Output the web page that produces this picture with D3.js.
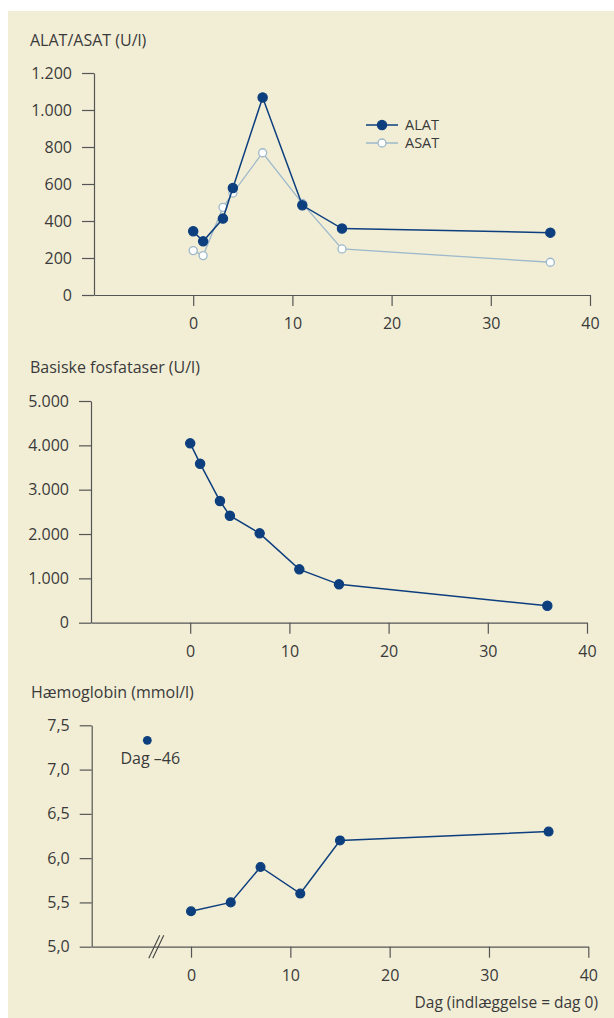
<!DOCTYPE html>
<html>
<head>
<meta charset="utf-8">
<title>ALAT/ASAT, basiske fosfataser, hæmoglobin</title>
<script src="https://cdn.jsdelivr.net/npm/d3@7"></script>
<style>
  body { margin: 0; background: #fff; }
  svg text { font-family: "Open Sans", sans-serif; fill: #3a3a3a; }
  .axis path, .axis line { stroke: #555; stroke-width: 1.2; }
  .axis text { font-size: 16px; }
  .title { font-size: 16px; }
</style>
</head>
<body>
<script>
// data
var days = [0, 1, 3, 4, 7, 11, 15, 36];
var alat = [345, 290, 413, 578, 1068, 485, 359, 337];
var asat = [240, 213, 474, 551, 769, 495, 249, 177];
var fosfatase = [4045, 3586, 2744, 2414, 2015, 1203, 865, 383];
var hbDays = [0, 4, 7, 11, 15, 36];
var hb = [5.4, 5.5, 5.9, 5.6, 6.2, 6.3];
var hbEarly = {day: -46, value: 7.33, label: "Dag \u201346"};
var xTicks = [0, 10, 20, 30, 40];
var alatTicks = [0, 200, 400, 600, 800, 1000, 1200];
var fosTicks = [0, 1000, 2000, 3000, 4000, 5000];
var hbTicks = [5.0, 5.5, 6.0, 6.5, 7.0, 7.5];

var dark = "#0d3f7e";
var light = "#9db8cb";

var locale = d3.formatLocale({decimal: ",", thousands: ".", grouping: [3], currency: ["", ""]});
var fmtInt = locale.format(",");
var fmtDec = locale.format(".1f");

var W = 614, H = 1018;
var svg = d3.select("body").append("svg")
	.attr("width", W)
	.attr("height", H);

svg.append("rect")
	.attr("x", 8).attr("y", 11)
	.attr("width", W - 8).attr("height", H - 11)
	.attr("fill", "#f2eed6");

function panel(opts) {
	var x = d3.scaleLinear().domain([-10, 40]).range(opts.xr);
	var y = d3.scaleLinear().domain(opts.yd).range(opts.yr);

	svg.append("text")
		.attr("class", "title")
		.attr("x", opts.tx).attr("y", opts.ty)
		.text(opts.title);

	svg.append("g")
		.attr("class", "axis")
		.attr("transform", "translate(0," + opts.yr[0] + ")")
		.call(d3.axisBottom(x).tickValues(xTicks).tickSize(11).tickSizeOuter(0).tickPadding(12))
		.call(function(g) { g.selectAll("text").attr("fill", "#3a3a3a"); });

	svg.append("g")
		.attr("class", "axis")
		.attr("transform", "translate(" + opts.xr[0] + ",0)")
		.call(d3.axisLeft(y).tickValues(opts.yTicks).tickFormat(opts.fmt).tickSize(12).tickSizeOuter(0).tickPadding(10))
		.call(function(g) { g.selectAll("text").attr("fill", "#3a3a3a"); });

	return {x: x, y: y};
}

function series(p, xs, ys, color, fill, r, w) {
	var pts = xs.map(function(d, i) { return [d, ys[i]]; });
	svg.append("path")
		.datum(pts)
		.attr("fill", "none")
		.attr("stroke", color)
		.attr("stroke-width", w)
		.attr("d", d3.line().x(function(d) { return p.x(d[0]); }).y(function(d) { return p.y(d[1]); }));
	svg.append("g")
		.selectAll("circle")
		.data(pts)
		.enter()
		.append("circle")
		.attr("cx", function(d) { return p.x(d[0]); })
		.attr("cy", function(d) { return p.y(d[1]); })
		.attr("r", r)
		.attr("fill", fill)
		.attr("stroke", color)
		.attr("stroke-width", 1.3);
}

// ALAT / ASAT
var p1 = panel({xr: [94, 590], yd: [0, 1200], yr: [295, 73], yTicks: alatTicks, fmt: fmtInt,
	title: "ALAT/ASAT (U/l)", tx: 30, ty: 46});
series(p1, days, asat, light, "#fff", 4, 1.3);
series(p1, days, alat, dark, dark, 4.6, 1.5);

// legend
var leg = svg.append("g");
[["ALAT", dark, dark, 4.6, 125], ["ASAT", light, "#fff", 4, 143]].forEach(function(l) {
	leg.append("line").attr("x1", 366).attr("x2", 398).attr("y1", l[4]).attr("y2", l[4])
		.attr("stroke", l[1]).attr("stroke-width", 1.5);
	leg.append("circle").attr("cx", 382).attr("cy", l[4]).attr("r", l[3])
		.attr("fill", l[2]).attr("stroke", l[1]).attr("stroke-width", 1.3);
	leg.append("text").attr("x", 405).attr("y", l[4]).attr("dy", "0.35em")
		.style("font-size", "14.5px").text(l[0]);
});

// Basiske fosfataser
var p2 = panel({xr: [91, 587], yd: [0, 5000], yr: [622.7, 401], yTicks: fosTicks, fmt: fmtInt,
	title: "Basiske fosfataser (U/l)", tx: 30, ty: 373});
series(p2, days, fosfatase, dark, dark, 4.6, 1.5);

// Hæmoglobin
var p3 = panel({xr: [91.7, 588.3], yd: [5, 7.5], yr: [946.7, 725.3], yTicks: hbTicks, fmt: fmtDec,
	title: "Hæmoglobin (mmol/l)", tx: 31, ty: 698});
series(p3, hbDays, hb, dark, dark, 4.4, 1.5);

// earlier value, drawn at the axis break
var breakAt = -3.5, earlyAt = -4.4;
svg.append("circle")
	.attr("cx", p3.x(earlyAt)).attr("cy", p3.y(hbEarly.value))
	.attr("r", 4.4).attr("fill", dark);
svg.append("text")
	.attr("x", p3.x(earlyAt) + 3).attr("y", p3.y(hbEarly.value) + 24)
	.attr("text-anchor", "middle")
	.style("font-size", "16px")
	.text(hbEarly.label);

[-2, 2].forEach(function(o) {
	var bx = p3.x(breakAt) + o;
	svg.append("line")
		.attr("x1", bx - 5.5).attr("y1", p3.y(5) + 11.5)
		.attr("x2", bx + 5.5).attr("y2", p3.y(5) - 11.5)
		.attr("stroke", "#444").attr("stroke-width", 1.1);
});

svg.append("text")
	.attr("x", 598).attr("y", 1008)
	.attr("text-anchor", "end")
	.style("font-size", "15.5px")
	.text("Dag (indlæggelse = dag 0)");
</script>
</body>
</html>
